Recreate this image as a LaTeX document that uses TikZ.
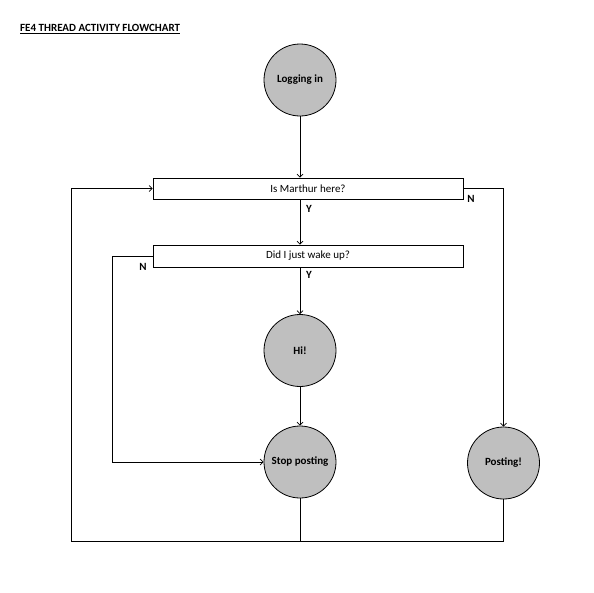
\documentclass[tikz,border=0pt]{standalone}
\usepackage{fontspec}
\setmainfont{Carlito}
\usetikzlibrary{arrows.meta}
\begin{document}
\begin{tikzpicture}[x=1pt,y=-1pt,
  every node/.style={font=\fontsize{11}{13}\selectfont},
  circ/.style={circle,draw=black,line width=0.8pt,fill={rgb,255:red,191;green,191;blue,191},minimum size=72pt,inner sep=0pt,font=\fontsize{11}{13}\selectfont\bfseries},
  qbox/.style={rectangle,draw=black,line width=0.8pt,fill=white,minimum width=310pt,inner sep=0pt},
  lbl/.style={font=\fontsize{11}{13}\selectfont\bfseries,inner sep=0pt},
  conn/.style={line width=0.9pt,draw=black},
  arr/.style={conn,-{Straight Barb[length=3pt,width=6pt,line width=0.7pt]}}]
\useasboundingbox (0,0) rectangle (594,592);
\node[anchor=west,inner sep=0pt] (title) at (20,29) {\underline{\textbf{FE4 THREAD ACTIVITY FLOWCHART}}};
\node[circ] (login) at (300,80) {Logging in};
\node[qbox,minimum height=21pt] (q1) at (308,188.5) {Is Marthur here?};
\node[qbox,minimum height=22pt] (q2) at (308,256) {Did I just wake up?};
\node[circ] (hi) at (300,350.5) {Hi!};
\node[circ] (stop) at (300,462) {Stop posting};
\node[circ] (post) at (503.5,463) {Posting!};
\coordinate (bl) at (71,541);
\coordinate (lx) at (112,462);
\node[lbl] (y1) at (309,209) {Y};
\node[lbl] (y2) at (309,275) {Y};
\node[lbl] (n1) at (471,199) {N};
\node[lbl] (n2) at (143,267) {N};
\draw[arr] (login) -- (login |- q1.north);
\draw[arr] (login |- q1.south) -- (login |- q2.north);
\draw[arr] (login |- q2.south) -- (hi);
\draw[arr] (hi) -- (stop);
\draw[arr] (q2.west) -| (lx |- stop) -- (stop.west);
\draw[arr] (q1.east) -| (post.north);
\draw[conn] (stop.south) -- (stop.south |- bl);
\draw[arr] (post.south) -- (post.south |- bl) -- (bl) |- (q1.west);
\end{tikzpicture}
\end{document}
